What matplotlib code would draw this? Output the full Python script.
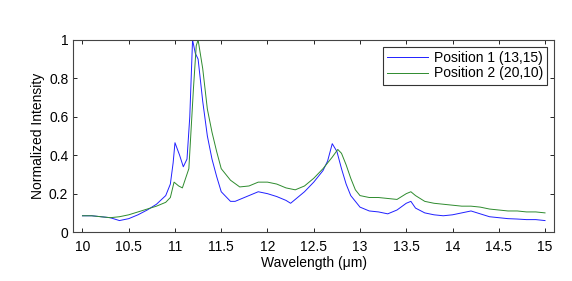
import numpy as np
import matplotlib.pyplot as plt

plt.rcParams['font.family'] = ['Liberation Sans', 'DejaVu Sans']

# Position 1 (13,15) - blue
wl1 = [10.0, 10.1, 10.2, 10.3, 10.4, 10.45, 10.5, 10.55, 10.6, 10.7, 10.8, 10.9,
       10.95, 10.98, 11.0, 11.05, 11.09, 11.13, 11.16, 11.19, 11.22, 11.25, 11.3,
       11.35, 11.4, 11.45, 11.5, 11.6, 11.65, 11.7, 11.8, 11.9, 12.0, 12.1, 12.2, 12.25,
       12.3, 12.4, 12.5, 12.6, 12.65, 12.7, 12.75, 12.8, 12.85, 12.9, 13.0, 13.1,
       13.2, 13.3, 13.4, 13.5, 13.55, 13.6, 13.7, 13.8, 13.9, 14.0, 14.1, 14.2,
       14.3, 14.4, 14.5, 14.6, 14.7, 14.8, 14.9, 15.0]
int1 = [0.085, 0.085, 0.08, 0.075, 0.06, 0.065, 0.07, 0.08, 0.09, 0.115, 0.145, 0.19,
        0.25, 0.36, 0.465, 0.4, 0.34, 0.38, 0.6, 1.0, 0.93, 0.9, 0.68,
        0.5, 0.38, 0.29, 0.21, 0.16, 0.16, 0.17, 0.19, 0.21, 0.2, 0.185, 0.165, 0.15,
        0.17, 0.21, 0.26, 0.32, 0.37, 0.46, 0.42, 0.33, 0.25, 0.19, 0.13, 0.11,
        0.105, 0.095, 0.115, 0.15, 0.16, 0.125, 0.1, 0.09, 0.085, 0.09, 0.1, 0.11,
        0.095, 0.08, 0.075, 0.07, 0.068, 0.065, 0.065, 0.06]

# Position 2 (20,10) - green
wl2 = [10.0, 10.1, 10.2, 10.3, 10.4, 10.5, 10.6, 10.7, 10.8, 10.9, 10.95, 10.99,
       11.04, 11.08, 11.15, 11.2, 11.23, 11.25, 11.3, 11.35, 11.4, 11.45, 11.5, 11.6,
       11.7, 11.8, 11.9, 12.0, 12.1, 12.2, 12.3, 12.4, 12.5, 12.6, 12.7, 12.76,
       12.8, 12.85, 12.9, 12.95, 13.0, 13.1, 13.2, 13.3, 13.4, 13.5, 13.55, 13.6,
       13.7, 13.8, 13.9, 14.0, 14.1, 14.2, 14.3, 14.4, 14.5, 14.6, 14.7, 14.8,
       14.9, 15.0]
int2 = [0.085, 0.085, 0.08, 0.075, 0.08, 0.09, 0.105, 0.12, 0.135, 0.155, 0.18, 0.26,
        0.24, 0.23, 0.33, 0.75, 0.97, 1.0, 0.85, 0.64, 0.52, 0.42, 0.33, 0.27,
        0.235, 0.24, 0.26, 0.26, 0.25, 0.23, 0.22, 0.24, 0.28, 0.33, 0.39, 0.43,
        0.41, 0.35, 0.28, 0.22, 0.19, 0.18, 0.18, 0.175, 0.17, 0.2, 0.21, 0.19,
        0.16, 0.15, 0.145, 0.14, 0.135, 0.135, 0.13, 0.12, 0.115, 0.11, 0.11, 0.105,
        0.105, 0.1]

fig = plt.figure(figsize=(5.72, 2.81), dpi=100)
ax = fig.add_axes([0.128, 0.174, 0.841, 0.684])
ax.plot(wl1, int1, color='#2020ff', lw=0.7, label='Position 1 (13,15)')
ax.plot(wl2, int2, color='#2e8b2e', lw=0.7, label='Position 2 (20,10)')

ax.set_xlim(9.9, 15.1)
ax.set_ylim(0, 1)
ax.set_xticks(np.arange(10, 15.01, 0.5))
ax.set_xticklabels(['10', '10.5', '11', '11.5', '12', '12.5', '13', '13.5', '14', '14.5', '15'])
ax.set_yticks([0, 0.2, 0.4, 0.6, 0.8, 1])
ax.set_yticklabels(['0', '0.2', '0.4', '0.6', '0.8', '1'])
ax.tick_params(direction='in', top=True, right=True, labelsize=10, length=3, width=0.6)
ax.tick_params(axis='x', pad=6)
for s in ax.spines.values():
    s.set_color('#444444')
    s.set_linewidth(0.8)
ax.set_xlabel('Wavelength (\u03bcm)', fontsize=10, labelpad=1)
ax.set_ylabel('Normalized Intensity', fontsize=10, labelpad=3)

leg = ax.legend(loc='upper right', fontsize=10, handlelength=2.9, fancybox=False,
                framealpha=1, edgecolor='#333333', borderaxespad=0.5,
                borderpad=0.3, labelspacing=0.1, handletextpad=0.45)
leg.get_frame().set_linewidth(0.8)

fig.savefig('out.png', dpi=100)
